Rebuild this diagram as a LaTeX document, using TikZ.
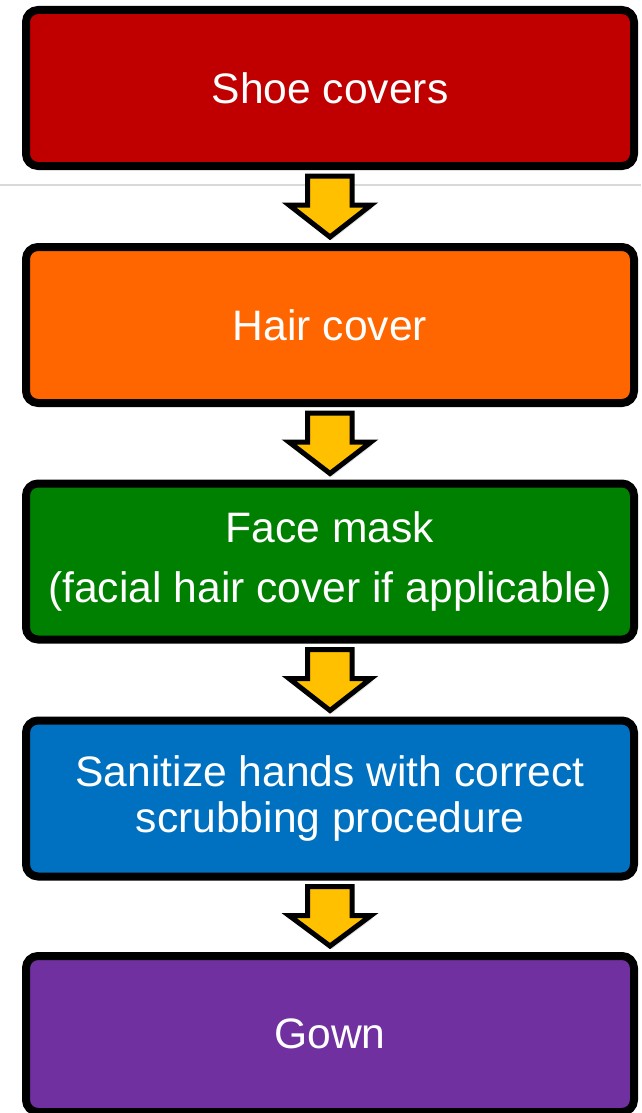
\documentclass[tikz,border=0pt]{standalone}
\usepackage{fontspec}
\setmainfont{Liberation Sans}
\usetikzlibrary{calc,shadows}
\definecolor{cRed}{HTML}{C00000}
\definecolor{cOrange}{HTML}{FF6600}
\definecolor{cGreen}{HTML}{008000}
\definecolor{cBlue}{HTML}{0070C0}
\definecolor{cPurple}{HTML}{7030A0}
\definecolor{cArrow}{HTML}{FFC000}
\definecolor{cRule}{HTML}{D9D9D9}
\begin{document}
\begin{tikzpicture}[x=1pt,y=-1pt,
  stepbox/.style={draw=black, line width=8pt, rounded corners=12pt,
    minimum width=608pt, minimum height=156pt, inner sep=0pt,
    text=white, align=center, font=\fontsize{42.6}{46}\selectfont,
    drop shadow={shadow xshift=2pt, shadow yshift=-3pt, opacity=0.22}},
  blockarrow/.style={draw=black, line width=5pt, fill=cArrow, line join=miter,
    drop shadow={shadow xshift=2pt, shadow yshift=-3pt, opacity=0.22}}]
\useasboundingbox (0,0) rectangle (641,1113);
\draw[cRule, line width=1.5pt] (0,185) -- (641,185);
\node[stepbox, fill=cRed]    (b1) at (330,88)    {Shoe covers};
\node[stepbox, fill=cOrange] (b2) at (330,325)   {Hair cover};
\node[stepbox, fill=cGreen]  (b3) at (330,561.5) {Face mask\\[14pt](facial hair cover if applicable)};
\node[stepbox, fill=cBlue]   (b4) at (330,798.5) {Sanitize hands with correct\\scrubbing procedure};
\node[stepbox, fill=cPurple] (b5) at (330,1034)  {Gown};
\foreach \a/\b in {b1/b2,b2/b3,b3/b4,b4/b5}{
  \draw[blockarrow]
    ($(\a.south)+(-22.5,6)$) -- ($(\a.south)+(22,6)$) -- ($(\a.south)+(22,35)$)
    -- ($(\a.south)+(41,35)$) -- ($(\b.north)+(0,-6)$) -- ($(\a.south)+(-41,35)$)
    -- ($(\a.south)+(-22.5,35)$) -- cycle;
}
\end{tikzpicture}
\end{document}
